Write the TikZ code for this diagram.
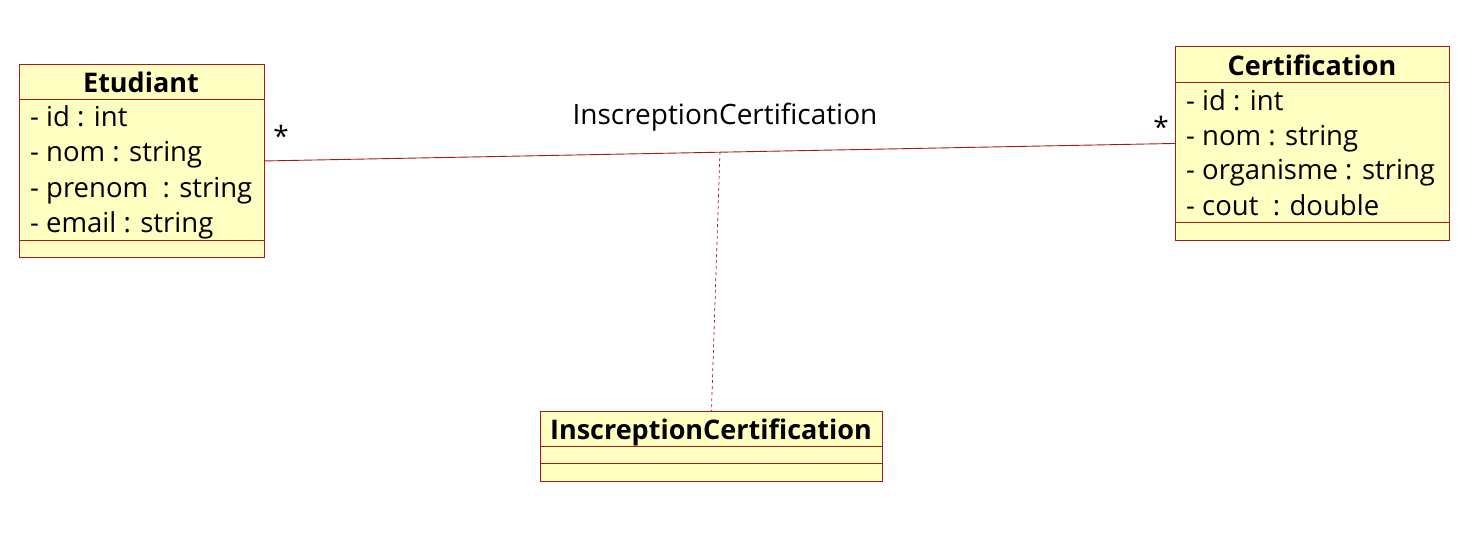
\documentclass[tikz,border=0pt]{standalone}
\usepackage{fontspec}
\setmainfont{Open Sans}
\usepackage{tikz}
\usetikzlibrary{calc}

\definecolor{umlred}{RGB}{170,25,25}
\definecolor{umlfill}{RGB}{255,255,194}

\begin{document}
\begin{tikzpicture}
        [
        x = 1pt, y = -1pt,
        classbox/.style = {
            draw = umlred, fill = umlfill,
            line width = 0.9pt,
            anchor = north west,
            inner sep = 0pt,
        },
        compartment/.style = {draw = umlred, line width = 0.9pt},
        classname/.style = {
            font = \fontsize{27}{32}\selectfont\bfseries,
            anchor = base, inner sep = 0pt,
        },
        attribute/.style = {
            font = \fontsize{27.5}{32}\selectfont,
            anchor = base west, inner sep = 0pt,
        },
        assoclabel/.style = {
            font = \fontsize{28}{32}\selectfont,
            anchor = base, inner sep = 0pt,
        },
        ]

        \useasboundingbox (0,0) rectangle (1458,541);

        % Classe Etudiant
        \node[classbox, minimum width = 245pt, minimum height = 193pt] (etudiant) at (19,64) {};
        \draw[compartment] ($(etudiant.north west)+(0,35)$) -- ($(etudiant.north east)+(0,35)$);
        \draw[compartment] ($(etudiant.south west)+(0,-17)$) -- ($(etudiant.south east)+(0,-17)$);
        \node[classname] (etudiant_name) at (141,92) {Etudiant};
        \node[attribute] (etudiant_id) at (30,126) {- id : int};
        \node[attribute] (etudiant_nom) at (30,161) {- nom : string};
        \node[attribute] (etudiant_prenom) at (30,197) {- prenom~ : string};
        \node[attribute] (etudiant_email) at (30,232) {- email : string};

        % Classe Certification
        \node[classbox, minimum width = 274pt, minimum height = 194pt] (certification) at (1175,46) {};
        \draw[compartment] ($(certification.north west)+(0,36)$) -- ($(certification.north east)+(0,36)$);
        \draw[compartment] ($(certification.south west)+(0,-18)$) -- ($(certification.south east)+(0,-18)$);
        \node[classname] (certification_name) at (1312,75) {Certification};
        \node[attribute] (certification_id) at (1186,110) {- id : int};
        \node[attribute] (certification_nom) at (1186,145) {- nom : string};
        \node[attribute] (certification_organisme) at (1186,179) {- organisme : string};
        \node[attribute] (certification_cout) at (1186,215) {- cout~ : double};

        % Classe d'association
        \node[classbox, minimum width = 342pt, minimum height = 70pt] (inscription) at (540,411) {};
        \draw[compartment] ($(inscription.north west)+(0,35)$) -- ($(inscription.north east)+(0,35)$);
        \draw[compartment] ($(inscription.south west)+(0,-18)$) -- ($(inscription.south east)+(0,-18)$);
        \node[classname] (inscription_name) at (711,439) {InscreptionCertification};

        % Association
        \draw[umlred, line width = 0.9pt] (etudiant.east) -- coordinate (assoc_mid) (certification.west);
        \draw[umlred, line width = 0.7pt, dashed] (assoc_mid) -- (inscription.north);
        \node[assoclabel] (assoc_name) at (725,124) {InscreptionCertification};
        \node[assoclabel] (mult_etudiant) at (281,146) {*};
        \node[assoclabel] (mult_certification) at (1161,137) {*};
\end{tikzpicture}
\end{document}
